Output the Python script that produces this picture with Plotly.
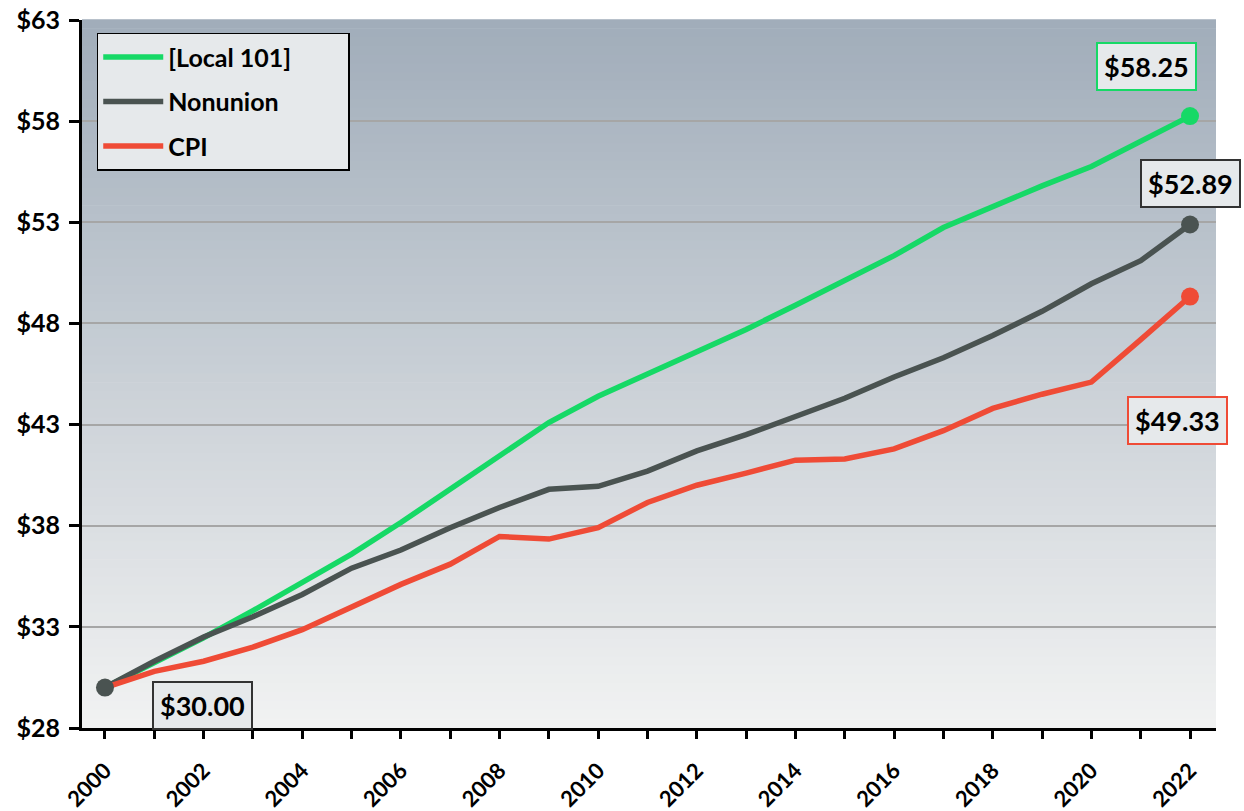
import plotly.graph_objects as go

years = list(range(2000, 2023))
local101 = [30.00, 31.25, 32.46, 33.80, 35.19, 36.60, 38.16, 39.80, 41.50, 43.10, 44.40,
            45.50, 46.60, 47.70, 48.90, 50.15, 51.35, 52.74, 53.80, 54.80, 55.76, 57.00, 58.25]
nonunion = [30.00, 31.30, 32.50, 33.50, 34.60, 35.90, 36.80, 37.90, 38.90, 39.80, 39.95,
            40.70, 41.70, 42.50, 43.40, 44.30, 45.35, 46.30, 47.40, 48.60, 49.96, 51.10, 52.89]
cpi = [30.00, 30.80, 31.30, 32.00, 32.86, 33.95, 35.10, 36.10, 37.47, 37.34, 37.90,
       39.15, 40.00, 40.60, 41.24, 41.30, 41.80, 42.70, 43.80, 44.50, 45.10, 47.20, 49.33]

names = ["[Local 101]", "Nonunion", "CPI"]
series = [local101, nonunion, cpi]
colors = ["#16D966", "#4A5351", "#EF4B36"]

y_ticks = [28, 33, 38, 43, 48, 53, 58, 63]
y_tick_text = ["$" + str(v) for v in y_ticks]
x_ticks = list(range(2000, 2023, 2))

FONT = "Lato"

fig = go.Figure()

# gradient background bands
n = 80
top = (161, 173, 186)
bot = (241, 242, 242)
for i in range(n):
    f = i / (n - 1)
    c = tuple(round(top[k] + (bot[k] - top[k]) * f) for k in range(3))
    fig.add_shape(type="rect", xref="paper", yref="paper",
                  x0=0, x1=1, y0=1 - (i + 1) / n, y1=1 - i / n + 0.001,
                  fillcolor="rgb(%d,%d,%d)" % c, line=dict(width=0), layer="below")

for i, (name, vals, col) in enumerate(zip(names, series, colors)):
    fig.add_trace(go.Scatter(x=years, y=vals, mode="lines",
                             name="<b>%s</b>" % name + "\u00a0" * 8,
                             legendgroup="g%d" % i,
                             line=dict(color=col, width=5.5)))

# end markers
for name, vals, col in zip(names, series, colors):
    fig.add_trace(go.Scatter(x=[years[-1]], y=[vals[-1]], mode="markers", showlegend=False,
                             marker=dict(color=col, size=18), hoverinfo="skip"))
fig.add_trace(go.Scatter(x=[years[0]], y=[nonunion[0]], mode="markers", showlegend=False,
                         marker=dict(color=colors[1], size=18), hoverinfo="skip"))

def label(x, y, text, border, xs, ys):
    fig.add_annotation(x=x, y=y, text="<b>%s</b>" % text, showarrow=False,
                       xshift=xs, yshift=ys, font=dict(family=FONT, size=27, color="black"),
                       bgcolor="#E6E9EB", bordercolor=border, borderwidth=2, borderpad=6)

label(years[-1], local101[-1], "$%.2f" % local101[-1], colors[0], -44, 50)
label(years[-1], nonunion[-1], "$%.2f" % nonunion[-1], "#333333", 0, 41)
label(years[-1], cpi[-1], "$%.2f" % cpi[-1], colors[2], -13, -124)
label(years[0], nonunion[0], "$%.2f" % nonunion[0], "#333333", 98, -18)

fig.update_layout(
    width=1244, height=811,
    margin=dict(l=82, r=28, t=20, b=83),
    paper_bgcolor="white",
    plot_bgcolor="rgba(0,0,0,0)",
    showlegend=True,
    legend=dict(x=0.013, y=0.982, xanchor="left", yanchor="top",
                bgcolor="#E6E9EB", bordercolor="black", borderwidth=1.5,
                font=dict(family=FONT, size=25, color="black"),
                tracegroupgap=9, itemwidth=60),
    font=dict(family=FONT),
)

fig.update_xaxes(range=[1999.534, 2022.527], tickmode="array", tickvals=x_ticks,
                 ticktext=["<b>%d</b>" % v for v in x_ticks], tickangle=-45,
                 tickfont=dict(family=FONT, size=22, color="black"),
                 ticklabelstandoff=10, automargin=False,
                 showline=True, linecolor="black", linewidth=3,
                 ticks="outside", ticklen=8, tickwidth=2.5, tickcolor="black",
                 minor=dict(dtick=1, tick0=2000, ticks="outside", ticklen=8, tickwidth=2.5, tickcolor="black"),
                 showgrid=False, zeroline=False)
fig.update_yaxes(range=[28, 63], tickmode="array", tickvals=y_ticks,
                 ticktext=["<b>%s</b>" % t for t in y_tick_text],
                 tickfont=dict(family=FONT, size=25, color="black"),
                 ticklabelstandoff=4, automargin=False,
                 showline=True, linecolor="black", linewidth=3,
                 ticks="outside", ticklen=10, tickwidth=3, tickcolor="black",
                 showgrid=True, gridcolor="#A6A6A6", gridwidth=2, zeroline=False)

fig.write_html("out.html")
